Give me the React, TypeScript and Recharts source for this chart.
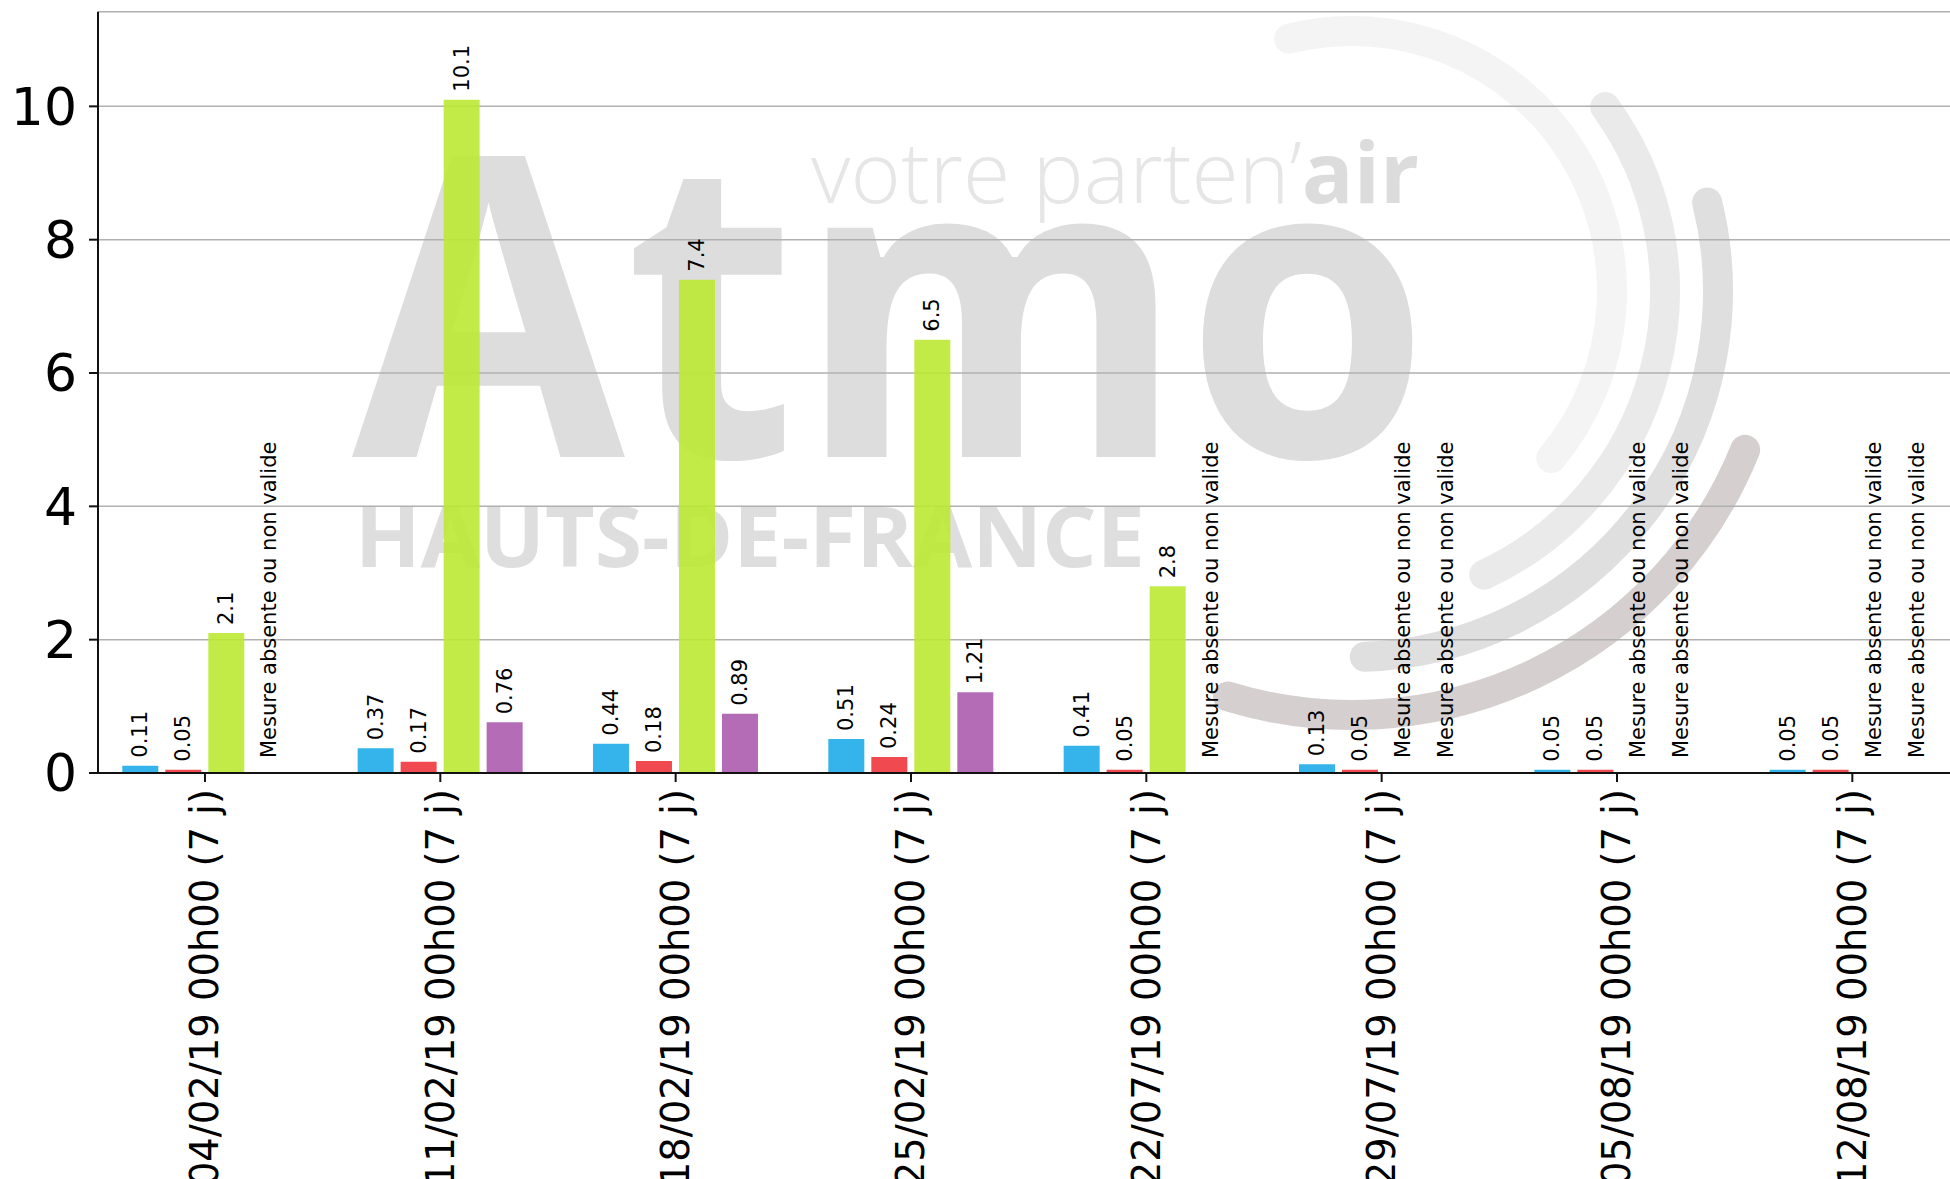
import React from 'react';
import { BarChart, Bar, XAxis, YAxis, CartesianGrid, LabelList } from 'recharts';

// semaines de mesure
const categories = [
  '04/02/19 00h00 (7 j)',
  '11/02/19 00h00 (7 j)',
  '18/02/19 00h00 (7 j)',
  '25/02/19 00h00 (7 j)',
  '22/07/19 00h00 (7 j)',
  '29/07/19 00h00 (7 j)',
  '05/08/19 00h00 (7 j)',
  '12/08/19 00h00 (7 j)',
];
const serie1 = [0.11, 0.37, 0.44, 0.51, 0.41, 0.13, 0.05, 0.05];
const serie2 = [0.05, 0.17, 0.18, 0.24, 0.05, 0.05, 0.05, 0.05];
const serie3 = [2.1, 10.1, 7.4, 6.5, 2.8, null, null, null];
const serie4 = [null, 0.76, 0.89, 1.21, null, null, null, null];
const series = [serie1, serie2, serie3, serie4];
const yTicks = [0, 2, 4, 6, 8, 10];
const MISSING = 'Mesure absente ou non valide';

const data = categories.map((cat, i) => ({
  cat,
  s1: serie1[i],
  s2: serie2[i],
  s3: serie3[i],
  s4: serie4[i],
}));

const FONT = 'DejaVu Sans, sans-serif';
const BAR_SIZE = 36;
const BAR_GAP = 7;
const TICK_SIZE = 9;
const TICK_MARGIN = 7;

const smallText = (x: number, y: number, txt: string) => (
  <text
    transform={`translate(${x},${y}) rotate(-90)`}
    textAnchor="start"
    dominantBaseline="central"
    fontSize={21}
    fontFamily={FONT}
    fill="#000"
  >
    {txt}
  </text>
);

const renderLabel = (props: any) => {
  const vb = props.viewBox && props.viewBox.width != null ? props.viewBox : props;
  const { x, y, width } = vb;
  if (x == null || y == null || props.value == null) return null;
  return smallText(x + width / 2, y - 8, String(props.value));
};

// étiquette de date + texte des mesures manquantes, posés depuis la graduation
const XTick = (props: any) => {
  const { x, y, payload, index } = props;
  const zeroY = y - TICK_SIZE - TICK_MARGIN;
  const pitch = BAR_SIZE + BAR_GAP;
  return (
    <g>
      {series.map((s, k) =>
        s[index] == null ? (
          <g key={k}>{smallText(x + (k - 1.5) * pitch, zeroY - 15, MISSING)}</g>
        ) : null
      )}
      <text
        transform={`translate(${x},${y}) rotate(-90)`}
        textAnchor="end"
        dominantBaseline="central"
        fontSize={38.5}
        fontFamily={FONT}
        fill="#000"
      >
        {payload.value}
      </text>
    </g>
  );
};

const arc = (cx: number, cy: number, r: number, a0: number, a1: number) => {
  const rad = Math.PI / 180;
  const x0 = cx + r * Math.cos(a0 * rad);
  const y0 = cy + r * Math.sin(a0 * rad);
  const x1 = cx + r * Math.cos(a1 * rad);
  const y1 = cy + r * Math.sin(a1 * rad);
  const large = a1 - a0 > 180 ? 1 : 0;
  return `M${x0},${y0} A${r},${r} 0 ${large} 1 ${x1},${y1}`;
};

const Watermark = () => (
  <svg width={1950} height={1179} style={{ position: 'absolute', left: 0, top: 0 }}>
    <path d={arc(1352, 291, 260, -104, 40)} stroke="#f4f4f4" strokeWidth={30} fill="none" strokeLinecap="round" />
    <path d={arc(1352, 291, 313, -36, 65)} stroke="#eaeaea" strokeWidth={30} fill="none" strokeLinecap="round" />
    <path d={arc(1352, 291, 366, -14, 88)} stroke="#dfdfdf" strokeWidth={30} fill="none" strokeLinecap="round" />
    <path d={arc(1352, 291, 424, 22, 107)} stroke="#d5cfcf" strokeWidth={30} fill="none" strokeLinecap="round" />
    <text x={352} y={457} fontSize={420} fontWeight={700} fontFamily="Open Sans, sans-serif" fill="#dddddd"
      textLength={1078} lengthAdjust="spacingAndGlyphs">Atmo</text>
    <text x={811} y={203} fontSize={84} fontFamily="Open Sans, sans-serif" fill="#e6e6e6"
      textLength={608} lengthAdjust="spacingAndGlyphs">
      <tspan fontWeight={300}>votre parten’</tspan>
      <tspan fontWeight={700} fill="#dcdcdc">air</tspan>
    </text>
    <text x={355} y={567} fontSize={84} fontWeight={700} fontFamily="Open Sans, sans-serif" fill="#dedede"
      textLength={790} lengthAdjust="spacingAndGlyphs">HAUTS-DE-FRANCE</text>
  </svg>
);

export default function App() {
  return (
    <div style={{ position: 'absolute', left: 0, top: 0, width: 1950, height: 1179, overflow: 'hidden', background: '#fff' }}>
      <Watermark />
      <div style={{ position: 'absolute', left: 0, top: 0 }}>
        <BarChart
          width={1950}
          height={1179}
          data={data}
          margin={{ top: 11.7, right: 0, bottom: 0, left: 0 }}
          barSize={BAR_SIZE}
          barGap={BAR_GAP}
        >
          <CartesianGrid vertical={false} stroke="#b0b0b0" strokeWidth={1.5} />
          <XAxis
            dataKey="cat"
            interval={0}
            height={406}
            padding={{ left: -10.7, right: -20 }}
            tick={<XTick />}
            tickSize={TICK_SIZE}
            tickMargin={TICK_MARGIN}
            axisLine={{ stroke: '#111', strokeWidth: 2 }}
            tickLine={{ stroke: '#111', strokeWidth: 2 }}
          />
          <YAxis
            width={98}
            domain={[0, 11.42]}
            ticks={yTicks}
            tickSize={9}
            tickMargin={12}
            tick={{ fontSize: 52, fill: '#000', fontFamily: FONT }}
            axisLine={{ stroke: '#111', strokeWidth: 2 }}
            tickLine={{ stroke: '#111', strokeWidth: 2 }}
          />
          <Bar dataKey="s1" fill="#1eace8" fillOpacity={0.9} isAnimationActive={false}>
            <LabelList content={renderLabel} />
          </Bar>
          <Bar dataKey="s2" fill="#ee363d" fillOpacity={0.9} isAnimationActive={false}>
            <LabelList content={renderLabel} />
          </Bar>
          <Bar dataKey="s3" fill="#bce934" fillOpacity={0.9} isAnimationActive={false}>
            <LabelList content={renderLabel} />
          </Bar>
          <Bar dataKey="s4" fill="#ab5cad" fillOpacity={0.9} isAnimationActive={false}>
            <LabelList content={renderLabel} />
          </Bar>
        </BarChart>
      </div>
    </div>
  );
}
